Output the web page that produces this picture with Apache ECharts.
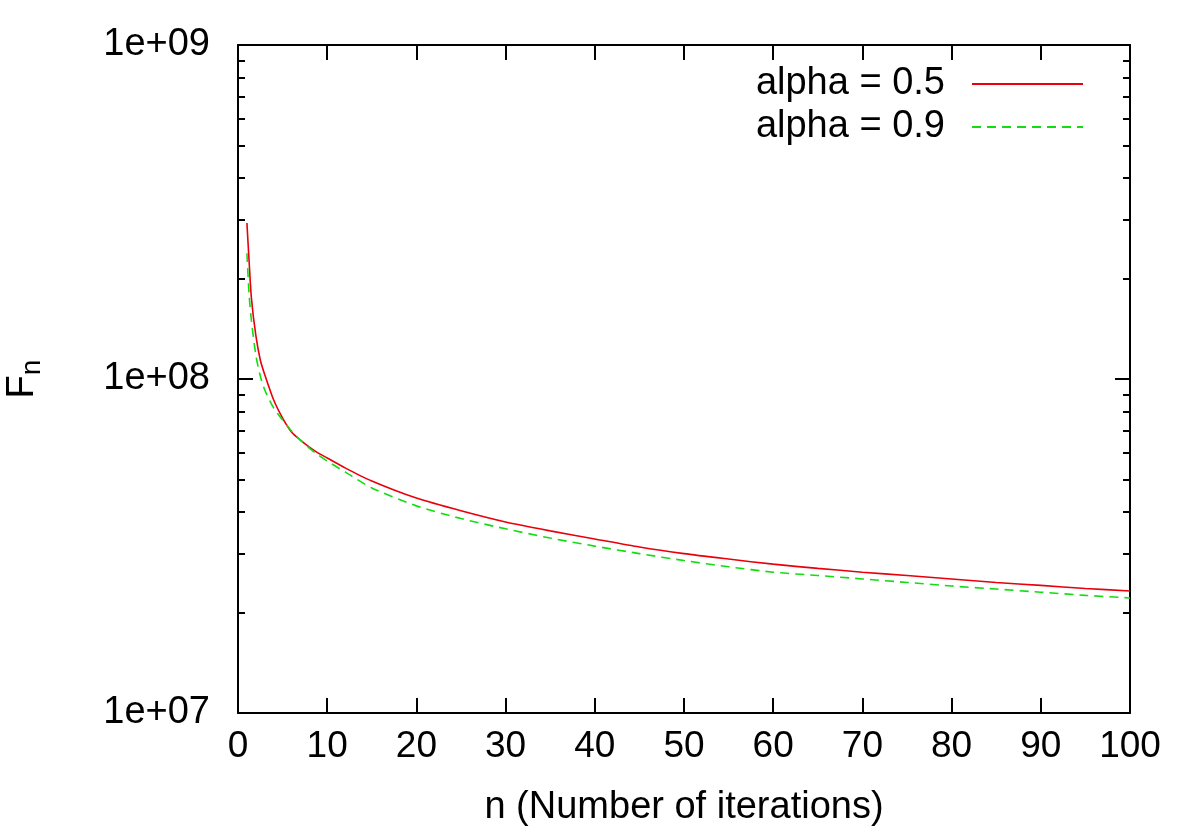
<!DOCTYPE html>
<html>
<head>
<meta charset="utf-8">
<script src="https://cdn.jsdelivr.net/npm/echarts@6/dist/echarts.min.js"></script>
<style>
  html, body { margin: 0; padding: 0; background: #fff; }
  #chart { width: 1200px; height: 839px; }
</style>
</head>
<body>
<div id="chart"></div>
<script>
// data
let iterations = [1, 1.25, 1.5, 2, 2.5, 3, 4, 5, 6, 7, 8, 9, 10, 12, 15, 20, 25, 30, 35, 40, 45, 50, 55, 60, 65, 70, 75, 80, 85, 90, 95, 100]
let alpha05 = [2.93e8, 2.24e8, 1.75e8, 1.35e8, 1.14e8, 1.03e8, 8.65e7, 7.64e7, 6.94e7, 6.56e7, 6.25e7, 6.0e7, 5.8e7, 5.42e7,
    4.95e7, 4.40e7, 4.03e7, 3.73e7, 3.51e7, 3.32e7, 3.14e7, 3.0e7, 2.89e7, 2.79e7, 2.71e7, 2.64e7, 2.58e7, 2.52e7, 2.46e7, 2.41e7, 2.36e7, 2.32e7]
let alpha09 = [2.38e8, 1.78e8, 1.50e8, 1.18e8, 1.02e8, 9.27e7, 8.19e7, 7.54e7, 6.99e7, 6.56e7, 6.21e7, 5.92e7, 5.68e7, 5.27e7,
    4.72e7, 4.17e7, 3.82e7, 3.56e7, 3.34e7, 3.16e7, 3.0e7, 2.86e7, 2.74e7, 2.64e7, 2.58e7, 2.52e7, 2.46e7, 2.40e7, 2.35e7, 2.30e7, 2.25e7, 2.21e7]
let seriesNames = ['alpha = 0.5', 'alpha = 0.9']
let yMajor = [1e7, 1e8, 1e9]
let yMajorLabels = ['1e+07', '1e+08', '1e+09']
let yMinor = [2e7, 3e7, 4e7, 5e7, 6e7, 7e7, 8e7, 9e7, 2e8, 3e8, 4e8, 5e8, 6e8, 7e8, 8e8, 9e8]

let chart = echarts.init(document.getElementById('chart'))
let font = 'Liberation Sans, Arial, Helvetica, sans-serif'

function pairs(ys) {
    let out = []
    for (let i = 0; i < iterations.length; i++) {
        out.push([iterations[i], ys[i]])
    }
    return out
}

// 对数轴：主刻度 / 次刻度分开画
function logAxis(pos, major, withLabel) {
    return {
        type: 'log',
        logBase: 10,
        position: pos,
        min: 1e7,
        max: 1e9,
        axisLine: { show: major, lineStyle: { color: '#000', width: 2 } },
        axisTick: {
            show: true,
            inside: true,
            length: major ? 15 : 7,
            customValues: major ? yMajor : yMinor,
            lineStyle: { color: '#000', width: 2 }
        },
        axisLabel: {
            show: withLabel,
            customValues: yMajor,
            margin: 28,
            color: '#000',
            fontSize: 38,
            fontFamily: font,
            formatter: function (v) {
                let i = yMajor.indexOf(v)
                return i >= 0 ? yMajorLabels[i] : ''
            }
        },
        splitLine: { show: false },
        minorTick: { show: false }
    }
}

let yAxes = [logAxis('left', true, true), logAxis('left', false, false), logAxis('right', true, false), logAxis('right', false, false)]
yAxes[0].name = '{f|F}{s|n}'
yAxes[0].nameLocation = 'middle'
yAxes[0].nameRotate = 90
yAxes[0].nameGap = 178
yAxes[0].nameTextStyle = {
    rich: {
        f: { fontSize: 38, fontFamily: font, color: '#000', padding: [0, 0, 18, 0] },
        s: { fontSize: 28, fontFamily: font, color: '#000' }
    }
}

let option = {
    backgroundColor: '#fff',
    animation: false,
    grid: { left: 238, right: 70, top: 45, bottom: 126, containLabel: false, outerBoundsMode: 'none' },
    legend: {
        orient: 'vertical',
        right: 111,
        top: 60,
        align: 'right',
        itemWidth: 111,
        itemHeight: 20,
        itemGap: 5,
        itemStyle: { opacity: 0 },
        textStyle: { fontSize: 38, fontFamily: font, color: '#000', lineHeight: 38, padding: [0, 22, 0, 0] },
        data: seriesNames
    },
    xAxis: [{
        type: 'value',
        position: 'bottom',
        min: 0,
        max: 100,
        interval: 10,
        name: 'n (Number of iterations)',
        nameLocation: 'middle',
        nameGap: 76,
        nameTextStyle: { fontSize: 38, fontFamily: font, color: '#000' },
        axisLine: { lineStyle: { color: '#000', width: 2 } },
        axisTick: { inside: true, length: 15, lineStyle: { color: '#000', width: 2 } },
        axisLabel: { margin: 15, fontSize: 37, fontFamily: font, color: '#000' },
        splitLine: { show: false }
    }, {
        type: 'value',
        position: 'top',
        min: 0,
        max: 100,
        interval: 10,
        axisLine: { lineStyle: { color: '#000', width: 2 } },
        axisTick: { inside: true, length: 15, lineStyle: { color: '#000', width: 2 } },
        axisLabel: { show: false },
        splitLine: { show: false }
    }],
    yAxis: yAxes,
    series: [{
        name: seriesNames[0],
        type: 'line',
        data: pairs(alpha05),
        symbol: 'none',
        smooth: 0.25,
        lineStyle: { color: '#e8000b', width: 1.6 },
        itemStyle: { color: '#e8000b' }
    }, {
        name: seriesNames[1],
        type: 'line',
        data: pairs(alpha09),
        symbol: 'none',
        smooth: 0.25,
        lineStyle: { color: '#11dd11', width: 1.6, type: [9, 6] },
        itemStyle: { color: '#11dd11' }
    }]
}
chart.setOption(option)
</script>
</body>
</html>
